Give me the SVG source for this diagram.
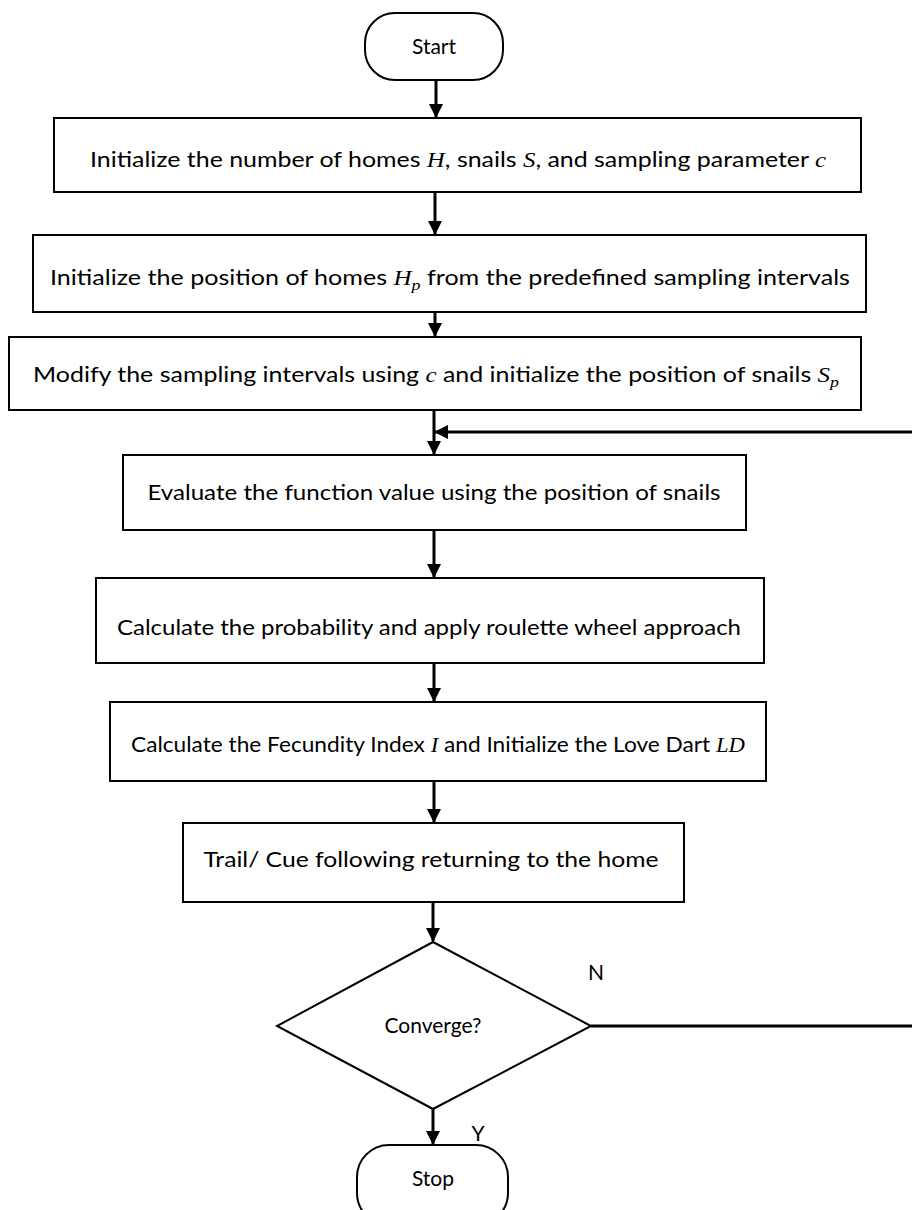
<svg xmlns="http://www.w3.org/2000/svg" width="912" height="1210" viewBox="0 0 912 1210">
<style>
.box{fill:#fff;stroke:#000;stroke-width:2}
.t{font-family:Lato,"Open Sans","Liberation Sans",sans-serif;font-size:21px;fill:#000;text-anchor:middle}
.m{font-family:"Liberation Serif",serif;font-style:italic}
.c{fill:none;stroke:#000;stroke-width:3}
</style>
<defs>
<marker id="ah2" markerWidth="14" markerHeight="14" refX="13" refY="7" orient="auto" markerUnits="userSpaceOnUse">
<path d="M0,0 L14,7 L0,14 Z" fill="#000"/>
</marker>
</defs>
<g id="connectors">
<line class="c" x1="436" y1="80" x2="436" y2="117" marker-end="url(#ah2)"/>
<line class="c" x1="435" y1="192" x2="435" y2="234" marker-end="url(#ah2)"/>
<line class="c" x1="435" y1="312" x2="435" y2="336" marker-end="url(#ah2)"/>
<line class="c" x1="434" y1="410" x2="434" y2="454" marker-end="url(#ah2)"/>
<line class="c" x1="912" y1="432" x2="435" y2="432" marker-end="url(#ah2)"/>
<line class="c" x1="434" y1="530" x2="434" y2="577" marker-end="url(#ah2)"/>
<line class="c" x1="434" y1="663" x2="434" y2="701" marker-end="url(#ah2)"/>
<line class="c" x1="434" y1="781" x2="434" y2="822" marker-end="url(#ah2)"/>
<line class="c" x1="433" y1="902" x2="433" y2="941" marker-end="url(#ah2)"/>
<line class="c" x1="591" y1="1026" x2="912" y2="1026"/>
<line class="c" x1="433" y1="1109" x2="433" y2="1144" marker-end="url(#ah2)"/>
</g>
<g id="labels">
<text class="t" x="596" y="980">N</text>
<text class="t" x="478" y="1141">Y</text>
</g>
<g id="start">
<rect class="box" x="365" y="13" width="138" height="67" rx="30"/>
<text class="t" x="434" y="54">Start</text>
</g>
<g id="n1">
<rect class="box" x="54" y="118" width="807" height="74"/>
<text class="t" x="458" y="167" textLength="736" lengthAdjust="spacingAndGlyphs">Initialize the number of homes <tspan class="m">H</tspan>, snails <tspan class="m">S</tspan>, and sampling parameter <tspan class="m">c</tspan></text>
</g>
<g id="n2">
<rect class="box" x="33" y="235" width="833" height="77"/>
<text class="t" x="450" y="285" textLength="800" lengthAdjust="spacingAndGlyphs">Initialize the position of homes <tspan class="m">H</tspan><tspan class="m" font-size="15" dy="5">p</tspan><tspan dy="-5"> from the predefined sampling intervals</tspan></text>
</g>
<g id="n3">
<rect class="box" x="9" y="337" width="852" height="73"/>
<text class="t" x="436" y="382" textLength="806" lengthAdjust="spacingAndGlyphs">Modify the sampling intervals using <tspan class="m">c</tspan> and initialize the position of snails <tspan class="m">S</tspan><tspan class="m" font-size="15" dy="5">p</tspan></text>
</g>
<g id="n4">
<rect class="box" x="123" y="455" width="623" height="75"/>
<text class="t" x="434" y="500" textLength="573" lengthAdjust="spacingAndGlyphs">Evaluate the function value using the position of snails</text>
</g>
<g id="n5">
<rect class="box" x="96" y="578" width="668" height="85"/>
<text class="t" x="429" y="635" textLength="624" lengthAdjust="spacingAndGlyphs">Calculate the probability and apply roulette wheel approach</text>
</g>
<g id="n6">
<rect class="box" x="110" y="702" width="656" height="79"/>
<text class="t" x="438" y="752" textLength="614" lengthAdjust="spacingAndGlyphs">Calculate the Fecundity Index <tspan class="m">I</tspan> and Initialize the Love Dart <tspan class="m">LD</tspan></text>
</g>
<g id="n7">
<rect class="box" x="183" y="823" width="501" height="79"/>
<text class="t" x="431" y="867" textLength="455" lengthAdjust="spacingAndGlyphs">Trail/ Cue following returning to the home</text>
</g>
<g id="decision">
<polygon class="box" points="433,942 591,1026 433,1109 277,1026"/>
<text class="t" x="433" y="1033">Converge?</text>
</g>
<g id="stop">
<rect class="box" x="357" y="1145" width="151" height="80" rx="32"/>
<text class="t" x="433" y="1186">Stop</text>
</g>
</svg>
